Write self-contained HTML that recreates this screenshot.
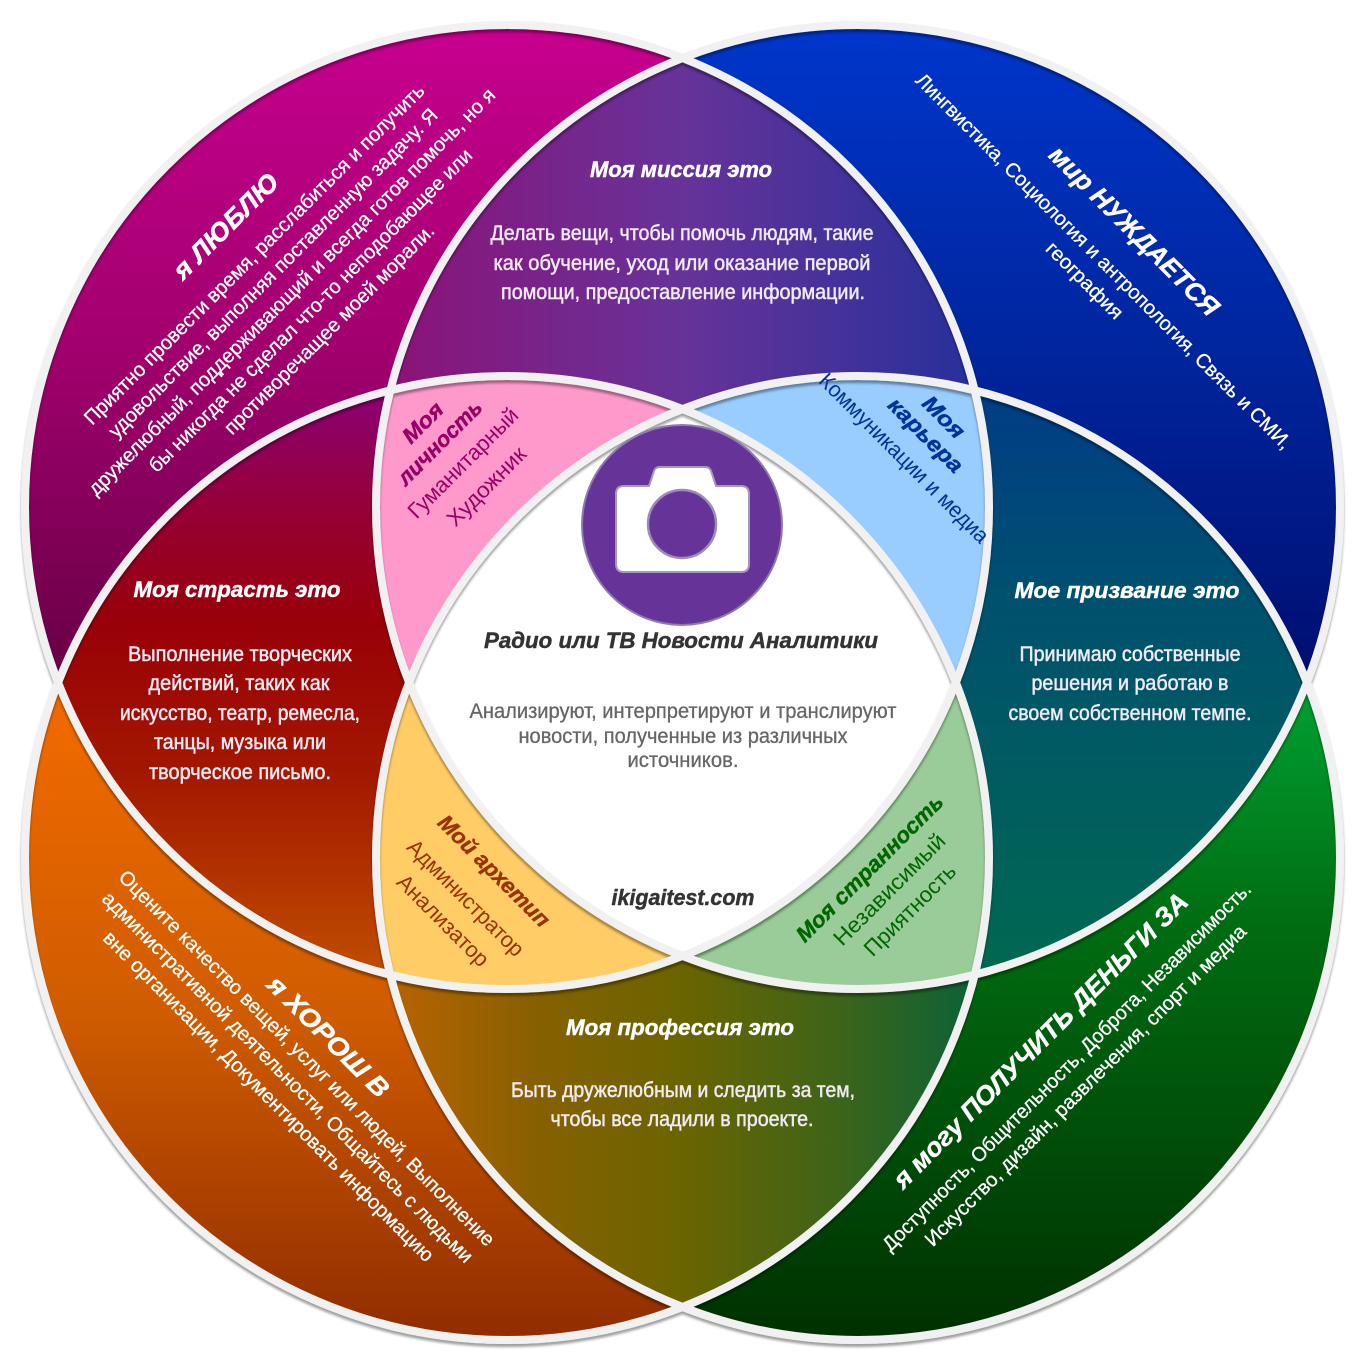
<!DOCTYPE html>
<html>
<head>
<meta charset="utf-8">
<style>
html,body{margin:0;padding:0;background:#ffffff;}
svg{display:block;}
.t{font-family:"Liberation Sans","DejaVu Sans",sans-serif;font-weight:bold;font-style:italic;stroke-width:0.45px;}
.b{font-family:"Liberation Sans Narrow","Liberation Sans","DejaVu Sans",sans-serif;stroke-width:0.3px;}
.m{font-family:"Liberation Sans Narrow","Liberation Sans","DejaVu Sans",sans-serif;stroke-width:0.5px;}
.n{font-family:"Liberation Sans Narrow","Liberation Sans","DejaVu Sans",sans-serif;}
</style>
</head>
<body>
<svg width="1365" height="1365" viewBox="0 0 1365 1365" xmlns="http://www.w3.org/2000/svg">
<defs>
  <clipPath id="cTL"><circle cx="507" cy="507" r="482"/></clipPath>
  <clipPath id="cTR"><circle cx="858" cy="507" r="482"/></clipPath>
  <clipPath id="cBL"><circle cx="507" cy="858" r="482"/></clipPath>
  <clipPath id="cBR"><circle cx="858" cy="858" r="482"/></clipPath>

  <linearGradient id="gTL" gradientUnits="userSpaceOnUse" x1="0" y1="25" x2="0" y2="720">
    <stop offset="0" stop-color="#c7008f"/>
    <stop offset="0.45" stop-color="#a3006f"/>
    <stop offset="1" stop-color="#600040"/>
  </linearGradient>
  <linearGradient id="gTR" gradientUnits="userSpaceOnUse" x1="0" y1="25" x2="0" y2="720">
    <stop offset="0" stop-color="#0036cc"/>
    <stop offset="0.45" stop-color="#00269f"/>
    <stop offset="1" stop-color="#000b6b"/>
  </linearGradient>
  <linearGradient id="gBL" gradientUnits="userSpaceOnUse" x1="0" y1="690" x2="0" y2="1340">
    <stop offset="0" stop-color="#f26a00"/>
    <stop offset="0.5" stop-color="#cf5c00"/>
    <stop offset="1" stop-color="#902c00"/>
  </linearGradient>
  <linearGradient id="gBR" gradientUnits="userSpaceOnUse" x1="0" y1="690" x2="0" y2="1340">
    <stop offset="0" stop-color="#00a033"/>
    <stop offset="0.35" stop-color="#006e12"/>
    <stop offset="1" stop-color="#003000"/>
  </linearGradient>
  <linearGradient id="gTop" gradientUnits="userSpaceOnUse" x1="385" y1="0" x2="980" y2="0">
    <stop offset="0" stop-color="#8c1277"/>
    <stop offset="0.5" stop-color="#663399"/>
    <stop offset="1" stop-color="#26309a"/>
  </linearGradient>
  <linearGradient id="gLeft" gradientUnits="userSpaceOnUse" x1="0" y1="380" x2="0" y2="990">
    <stop offset="0" stop-color="#8a007a"/>
    <stop offset="0.2" stop-color="#95003a"/>
    <stop offset="0.4" stop-color="#990008"/>
    <stop offset="0.65" stop-color="#a31800"/>
    <stop offset="1" stop-color="#c25200"/>
  </linearGradient>
  <linearGradient id="gRight" gradientUnits="userSpaceOnUse" x1="0" y1="380" x2="0" y2="990">
    <stop offset="0" stop-color="#003c88"/>
    <stop offset="0.35" stop-color="#00506f"/>
    <stop offset="1" stop-color="#006a4f"/>
  </linearGradient>
  <linearGradient id="gBottom" gradientUnits="userSpaceOnUse" x1="385" y1="0" x2="980" y2="0">
    <stop offset="0" stop-color="#bb6300"/>
    <stop offset="0.25" stop-color="#876000"/>
    <stop offset="0.5" stop-color="#6a6400"/>
    <stop offset="0.75" stop-color="#3f6418"/>
    <stop offset="1" stop-color="#0a6238"/>
  </linearGradient>

  <filter id="sh" x="-5%" y="-5%" width="110%" height="110%">
    <feDropShadow dx="0" dy="3" stdDeviation="1.4" flood-color="#000000" flood-opacity="0.38"/>
  </filter>
</defs>

<!-- base circles -->
<circle cx="507" cy="858" r="482" fill="url(#gBL)"/>
<circle cx="858" cy="858" r="482" fill="url(#gBR)"/>
<circle cx="507" cy="507" r="482" fill="url(#gTL)"/>
<circle cx="858" cy="507" r="482" fill="url(#gTR)"/>

<!-- lenses -->
<g clip-path="url(#cTL)"><circle cx="858" cy="507" r="482" fill="url(#gTop)"/></g>
<g clip-path="url(#cTL)"><circle cx="507" cy="858" r="482" fill="url(#gLeft)"/></g>
<g clip-path="url(#cTR)"><circle cx="858" cy="858" r="482" fill="url(#gRight)"/></g>
<g clip-path="url(#cBL)"><circle cx="858" cy="858" r="482" fill="url(#gBottom)"/></g>

<!-- petals -->
<g clip-path="url(#cTL)"><g clip-path="url(#cTR)"><circle cx="507" cy="858" r="482" fill="#ff99cc"/></g></g>
<g clip-path="url(#cTL)"><g clip-path="url(#cTR)"><circle cx="858" cy="858" r="482" fill="#99ccff"/></g></g>
<g clip-path="url(#cTL)"><g clip-path="url(#cBL)"><circle cx="858" cy="858" r="482" fill="#ffcc66"/></g></g>
<g clip-path="url(#cTR)"><g clip-path="url(#cBL)"><circle cx="858" cy="858" r="482" fill="#99cc99"/></g></g>

<!-- center -->
<g clip-path="url(#cTL)"><g clip-path="url(#cTR)"><g clip-path="url(#cBL)"><circle cx="858" cy="858" r="482" fill="#ffffff"/></g></g></g>

<!-- strokes -->
<g filter="url(#sh)" fill="none" stroke="#f1f1f1" stroke-width="8">
  <circle cx="507" cy="507" r="482"/>
  <circle cx="858" cy="507" r="482"/>
  <circle cx="507" cy="858" r="482"/>
  <circle cx="858" cy="858" r="482"/>
</g>

<!-- camera icon -->
<circle cx="682" cy="525" r="100" fill="#663399" stroke="#8e7bb0" stroke-width="2"/>
<path d="M624 486 L649 486 L654 471 Q655.5 467 660 467 L705 467 Q709.5 467 711 471 L716 486 L741 486 Q749 486 749 494 L749 564 Q749 572 741 572 L624 572 Q616 572 616 564 L616 494 Q616 486 624 486 Z" fill="#ffffff" stroke="#a898c0" stroke-width="2"/>
<circle cx="682" cy="524" r="34" fill="#663399" stroke="#9c8ab8" stroke-width="2.5"/>

<!-- lens texts -->
<g fill="#ffffff" stroke="#ffffff" text-anchor="middle">
  <text class="t" x="681" y="177" font-size="22" textLength="182" lengthAdjust="spacingAndGlyphs">Моя миссия это</text>
  <text class="t" x="237" y="597" font-size="22" textLength="207" lengthAdjust="spacingAndGlyphs">Моя страсть это</text>
  <text class="t" x="1127" y="598" font-size="22" textLength="225" lengthAdjust="spacingAndGlyphs">Мое призвание это</text>
  <text class="t" x="680" y="1035" font-size="22" textLength="228" lengthAdjust="spacingAndGlyphs">Моя профессия это</text>
</g>
<g fill="#f1e9f3" stroke="#f1e9f3" text-anchor="middle" font-size="21">
  <text class="m" x="682" y="240" textLength="383" lengthAdjust="spacingAndGlyphs">Делать вещи, чтобы помочь людям, такие</text>
  <text class="m" x="682" y="270" textLength="377" lengthAdjust="spacingAndGlyphs">как обучение, уход или оказание первой</text>
  <text class="m" x="683" y="299" textLength="364" lengthAdjust="spacingAndGlyphs">помощи, предоставление информации.</text>

  <text class="m" x="240" y="661" textLength="224" lengthAdjust="spacingAndGlyphs">Выполнение творческих</text>
  <text class="m" x="239" y="690" textLength="181" lengthAdjust="spacingAndGlyphs">действий, таких как</text>
  <text class="m" x="240" y="720" textLength="240" lengthAdjust="spacingAndGlyphs">искусство, театр, ремесла,</text>
  <text class="m" x="240" y="749" textLength="172" lengthAdjust="spacingAndGlyphs">танцы, музыка или</text>
  <text class="m" x="240" y="779" textLength="182" lengthAdjust="spacingAndGlyphs">творческое письмо.</text>

  <text class="m" x="1130" y="661" textLength="221" lengthAdjust="spacingAndGlyphs">Принимаю собственные</text>
  <text class="m" x="1130" y="690" textLength="197" lengthAdjust="spacingAndGlyphs">решения и работаю в</text>
  <text class="m" x="1130" y="720" textLength="243" lengthAdjust="spacingAndGlyphs">своем собственном темпе.</text>

  <text class="m" x="683" y="1097" textLength="344" lengthAdjust="spacingAndGlyphs">Быть дружелюбным и следить за тем,</text>
  <text class="m" x="682" y="1126" textLength="263" lengthAdjust="spacingAndGlyphs">чтобы все ладили в проекте.</text>
</g>

<!-- center texts -->
<text class="t" x="681" y="648" font-size="22" fill="#333333" stroke="#333333" text-anchor="middle" textLength="394" lengthAdjust="spacingAndGlyphs">Радио или ТВ Новости Аналитики</text>
<g fill="#666666" stroke="#666666" text-anchor="middle" font-size="21">
  <text class="b" x="683" y="718" textLength="427" lengthAdjust="spacingAndGlyphs">Анализируют, интерпретируют и транслируют</text>
  <text class="b" x="683" y="743" textLength="329" lengthAdjust="spacingAndGlyphs">новости, полученные из различных</text>
  <text class="b" x="683" y="767" textLength="111" lengthAdjust="spacingAndGlyphs">источников.</text>
</g>
<text class="t" x="683" y="905" font-size="22" fill="#333333" stroke="#333333" text-anchor="middle" textLength="143" lengthAdjust="spacingAndGlyphs">ikigaitest.com</text>

<!-- TL: я ЛЮБЛЮ -->
<g transform="translate(682.5 682.5) rotate(-45)" fill="#ffffff" stroke="#ffffff" text-anchor="middle">
  <text class="t" x="0" y="-637" font-size="26" textLength="138" lengthAdjust="spacingAndGlyphs">я ЛЮБЛЮ</text>
  <text class="b" x="0" y="-599" font-size="20" textLength="472" lengthAdjust="spacingAndGlyphs">Приятно провести время, расслабиться и получить</text>
  <text class="b" x="0" y="-572.5" font-size="20" textLength="456" lengthAdjust="spacingAndGlyphs">удовольствие, выполняя поставленную задачу. Я</text>
  <text class="b" x="0" y="-546" font-size="20" textLength="566" lengthAdjust="spacingAndGlyphs">дружелюбный, поддерживающий и всегда готов помочь, но я</text>
  <text class="b" x="0" y="-519.5" font-size="20" textLength="448" lengthAdjust="spacingAndGlyphs">бы никогда не сделал что-то неподобающее или</text>
  <text class="b" x="0" y="-493" font-size="20" textLength="288" lengthAdjust="spacingAndGlyphs">противоречащее моей морали.</text>
</g>

<!-- TR: мир НУЖДАЕТСЯ -->
<g transform="translate(682.5 682.5) rotate(45)" fill="#ffffff" stroke="#ffffff" text-anchor="middle">
  <text class="t" x="0" y="-630" font-size="26" textLength="228" lengthAdjust="spacingAndGlyphs">мир НУЖДАЕТСЯ</text>
  <text class="b" x="0" y="-589" font-size="20" textLength="522" lengthAdjust="spacingAndGlyphs">Лингвистика, Социология и антропология, Связь и СМИ,</text>
  <text class="b" x="0" y="-562" font-size="20" textLength="100" lengthAdjust="spacingAndGlyphs">география</text>
</g>

<!-- BL: я ХОРОШ В -->
<g transform="translate(682.5 682.5) rotate(45)" fill="#ffffff" stroke="#ffffff" text-anchor="middle">
  <text class="t" x="0" y="509.5" font-size="26" textLength="160" lengthAdjust="spacingAndGlyphs">я ХОРОШ В</text>
  <text class="b" x="0" y="538" font-size="20" textLength="522" lengthAdjust="spacingAndGlyphs">Оцените качество вещей, услуг или людей, Выполнение</text>
  <text class="b" x="0" y="565" font-size="20" textLength="515" lengthAdjust="spacingAndGlyphs">административной деятельности, Общайтесь с людьми</text>
  <text class="b" x="0" y="592" font-size="20" textLength="458" lengthAdjust="spacingAndGlyphs">вне организации, Документировать информацию</text>
</g>

<!-- BR: я могу ПОЛУЧИТЬ ДЕНЬГИ ЗА -->
<g transform="translate(682.5 682.5) rotate(-45)" fill="#ffffff" stroke="#ffffff" text-anchor="middle">
  <text class="t" x="0" y="515" font-size="26" textLength="405" lengthAdjust="spacingAndGlyphs">я могу ПОЛУЧИТЬ ДЕНЬГИ ЗА</text>
  <text class="b" x="0" y="550" font-size="20" textLength="512" lengthAdjust="spacingAndGlyphs">Доступность, Общительность, Доброта, Независимость.</text>
  <text class="b" x="0" y="576.5" font-size="20" textLength="445" lengthAdjust="spacingAndGlyphs">Искусство, дизайн, развлечения, спорт и медиа</text>
</g>

<!-- pink petal -->
<g transform="translate(682.5 682.5) rotate(-45)" fill="#990066" text-anchor="middle" font-size="22">
  <text class="t" stroke="#990066" x="0" y="-360" textLength="48" lengthAdjust="spacingAndGlyphs">Моя</text>
  <text class="t" stroke="#990066" x="-2" y="-334" textLength="110" lengthAdjust="spacingAndGlyphs">личность</text>
  <text class="n" x="0" y="-303" textLength="146" lengthAdjust="spacingAndGlyphs">Гуманитарный</text>
  <text class="n" x="0" y="-270" textLength="102" lengthAdjust="spacingAndGlyphs">Художник</text>
</g>

<!-- blue petal -->
<g transform="translate(682.5 682.5) rotate(45)" fill="#003399" text-anchor="middle" font-size="22">
  <text class="t" stroke="#003399" x="-3" y="-365" textLength="50" lengthAdjust="spacingAndGlyphs">Моя</text>
  <text class="t" stroke="#003399" x="-3" y="-339.5" textLength="96" lengthAdjust="spacingAndGlyphs">карьера</text>
  <text class="n" x="-2" y="-308" textLength="230" lengthAdjust="spacingAndGlyphs">Коммуникации и медиа</text>
</g>

<!-- orange petal -->
<g transform="translate(682.5 682.5) rotate(45)" fill="#993300" text-anchor="middle" font-size="22">
  <text class="t" stroke="#993300" x="0" y="274" textLength="148" lengthAdjust="spacingAndGlyphs">Мой архетип</text>
  <text class="n" x="-1" y="313" textLength="155" lengthAdjust="spacingAndGlyphs">Администратор</text>
  <text class="n" x="-1" y="345" textLength="120" lengthAdjust="spacingAndGlyphs">Анализатор</text>
</g>

<!-- green petal -->
<g transform="translate(682.5 682.5) rotate(-45)" fill="#006600" text-anchor="middle" font-size="22">
  <text class="t" stroke="#006600" x="1" y="271" textLength="198" lengthAdjust="spacingAndGlyphs">Моя странность</text>
  <text class="n" x="0" y="300" textLength="148" lengthAdjust="spacingAndGlyphs">Независимый</text>
  <text class="n" x="0" y="329" textLength="120" lengthAdjust="spacingAndGlyphs">Приятность</text>
</g>
</svg>
</body>
</html>
